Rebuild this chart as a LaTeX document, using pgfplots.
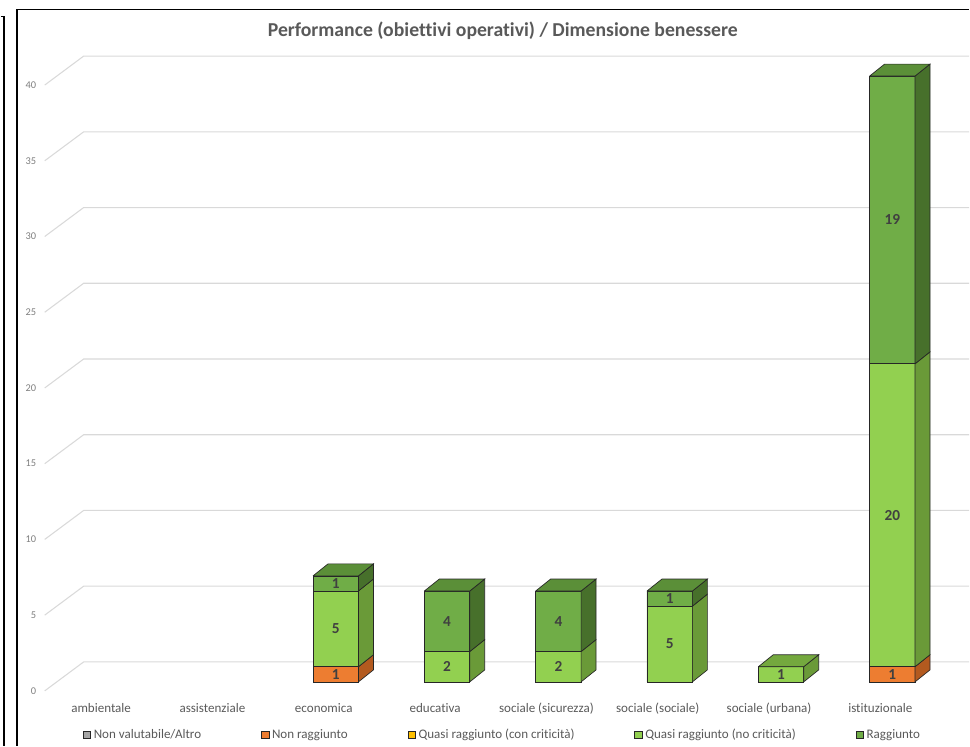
\documentclass[border=0pt]{standalone}
\usepackage{pgfplots}
\usepackage{pgfplotstable}
\pgfplotsset{compat=1.18}
\usepackage{fontspec}
\setmainfont{Carlito}[Ligatures=NoCommon]

\definecolor{cNV}{HTML}{A5A5A5}
\definecolor{cNR}{HTML}{ED7D31}
\definecolor{cNRs}{HTML}{B35A1F}
\definecolor{cQC}{HTML}{FFC000}
\definecolor{cQN}{HTML}{92D050}
\definecolor{cQNs}{HTML}{6A9A38}
\definecolor{cQNt}{HTML}{74A83E}
\definecolor{cR}{HTML}{70AD47}
\definecolor{cRs}{HTML}{47702B}
\definecolor{cRt}{HTML}{5B8F38}
\definecolor{txt}{HTML}{595959}
\definecolor{tick}{HTML}{7F7F7F}
\definecolor{gridc}{HTML}{D9D9D9}
\definecolor{edge}{HTML}{262626}
\definecolor{lbl}{HTML}{404040}

% categories: 0 ambientale, 1 assistenziale (all zero), 2 economica, 3 educativa,
% 4 sociale (sicurezza), 5 sociale (sociale), 6 sociale (urbana), 7 istituzionale
\pgfplotstableread{
x NV NR QC QN R
2 0 1 0 5 1
3 0 0 0 2 4
4 0 0 0 2 4
5 0 0 0 5 1
6 0 0 0 1 0
7 0 1 0 20 19
}\data

\pgfplotsset{
  geom/.style={
    at={(31.5pt,-512.25pt)}, anchor=south west, scale only axis,
    x=83.625pt, y=11.3775pt,
    xmin=-0.6323, xmax=7.601, ymin=0, ymax=42,
    clip=false,
  },
}

\begin{document}
\begin{tikzpicture}
\begin{scope}[x=0.75pt,y=-0.75pt]
  \path (0,0) rectangle (970,747);
  \draw[line width=1.2pt] (0,16.5) -- (3,16.5) -- (3,747);
  \draw[line width=1.2pt] (16,747) -- (16,9.5) -- (970,9.5);
  \foreach \v in {0,5,...,40} {
    \draw[gridc, line width=0.8pt] (44,{692-15.17*\v}) -- (83,{663-15.17*\v}) -- (970,{663-15.17*\v});
  }
\end{scope}

\begin{axis}[geom,
  ybar stacked, bar width=34.125pt,
  axis line style={draw=none}, major tick length=0pt,
  xtick={0,...,7},
  xticklabels={{ambientale},{assistenziale},{economica},{educativa},{sociale (sicurezza)},{sociale (sociale)},{sociale (urbana)},{istituzionale}},
  xticklabel style={anchor=center, xshift=-9pt, yshift=-20pt, font=\fontsize{9.8}{11}\selectfont, text=txt},
  ytick={0,5,...,40},
  yticklabel style={anchor=east, xshift=-1.5pt, yshift=-6.75pt, font=\fontsize{7.8}{9}\selectfont, text=tick},
  /pgf/number format/assume math mode=true,
  point meta=rawy,
  nodes near coords={\pgfmathfloatifflags{\pgfplotspointmeta}{0}{}{\pgfmathprintnumber{\pgfplotspointmeta}}},
  every node near coord/.append style={anchor=center,
     font=\bfseries\fontsize{11.5}{13}\selectfont, text=lbl},
  title={Performance (obiettivi operativi) / Dimensione benessere},
  title style={at={(0.502,1.011)}, anchor=center, font=\bfseries\fontsize{14.8}{17}\selectfont, text=txt},
  legend columns=5,
  legend style={at={(0.502,-0.083)}, anchor=center, draw=none, fill=none,
     font=\fontsize{9.8}{11}\selectfont, text=txt,
     /tikz/every even column/.append style={column sep=43pt}},
  legend image code/.code={\draw[#1,line width=0.6pt,draw=edge] (0pt,-2.8pt) rectangle (5.6pt,2.8pt);},
]
\addplot[fill=cNV, draw=edge, line width=0.5pt] table[x=x,y=NV]{\data};
\addlegendentry{Non valutabile/Altro}
\addplot[fill=cNR, draw=edge, line width=0.5pt] table[x=x,y=NR]{\data};
\addlegendentry{Non raggiunto}
\addplot[fill=cQC, draw=edge, line width=0.5pt] table[x=x,y=QC]{\data};
\addlegendentry{Quasi raggiunto (con criticità)}
\addplot[fill=cQN, draw=edge, line width=0.5pt] table[x=x,y=QN]{\data};
\addlegendentry{Quasi raggiunto (no criticità)}
\addplot[fill=cR, draw=edge, line width=0.5pt] table[x=x,y=R]{\data};
\addlegendentry{Raggiunto}
\end{axis}

% depth faces of the 3D bars (side and top faces)
\begin{axis}[geom, hide axis]
% economica: 1 / 5 / 1 (top 7)
\addplot[fill=cNRs, draw=edge, line width=0.5pt] coordinates {(2.204,0)(2.3385,0.791)(2.3385,1.791)(2.204,1)(2.204,0)};
\addplot[fill=cQNs, draw=edge, line width=0.5pt] coordinates {(2.204,1)(2.3385,1.791)(2.3385,6.791)(2.204,6)(2.204,1)};
\addplot[fill=cRs, draw=edge, line width=0.5pt] coordinates {(2.204,6)(2.3385,6.791)(2.3385,7.791)(2.204,7)(2.204,6)};
\addplot[fill=cRt, draw=edge, line width=0.5pt] coordinates {(1.796,7)(1.9305,7.791)(2.3385,7.791)(2.204,7)(1.796,7)};
% educativa: 2 / 4 (top 6)
\addplot[fill=cQNs, draw=edge, line width=0.5pt] coordinates {(3.204,0)(3.3385,0.791)(3.3385,2.791)(3.204,2)(3.204,0)};
\addplot[fill=cRs, draw=edge, line width=0.5pt] coordinates {(3.204,2)(3.3385,2.791)(3.3385,6.791)(3.204,6)(3.204,2)};
\addplot[fill=cRt, draw=edge, line width=0.5pt] coordinates {(2.796,6)(2.9305,6.791)(3.3385,6.791)(3.204,6)(2.796,6)};
% sociale (sicurezza): 2 / 4 (top 6)
\addplot[fill=cQNs, draw=edge, line width=0.5pt] coordinates {(4.204,0)(4.3385,0.791)(4.3385,2.791)(4.204,2)(4.204,0)};
\addplot[fill=cRs, draw=edge, line width=0.5pt] coordinates {(4.204,2)(4.3385,2.791)(4.3385,6.791)(4.204,6)(4.204,2)};
\addplot[fill=cRt, draw=edge, line width=0.5pt] coordinates {(3.796,6)(3.9305,6.791)(4.3385,6.791)(4.204,6)(3.796,6)};
% sociale (sociale): 5 / 1 (top 6)
\addplot[fill=cQNs, draw=edge, line width=0.5pt] coordinates {(5.204,0)(5.3385,0.791)(5.3385,5.791)(5.204,5)(5.204,0)};
\addplot[fill=cRs, draw=edge, line width=0.5pt] coordinates {(5.204,5)(5.3385,5.791)(5.3385,6.791)(5.204,6)(5.204,5)};
\addplot[fill=cRt, draw=edge, line width=0.5pt] coordinates {(4.796,6)(4.9305,6.791)(5.3385,6.791)(5.204,6)(4.796,6)};
% sociale (urbana): 1 (top 1)
\addplot[fill=cQNs, draw=edge, line width=0.5pt] coordinates {(6.204,0)(6.3385,0.791)(6.3385,1.791)(6.204,1)(6.204,0)};
\addplot[fill=cQNt, draw=edge, line width=0.5pt] coordinates {(5.796,1)(5.9305,1.791)(6.3385,1.791)(6.204,1)(5.796,1)};
% istituzionale: 1 / 20 / 19 (top 40)
\addplot[fill=cNRs, draw=edge, line width=0.5pt] coordinates {(7.204,0)(7.3385,0.791)(7.3385,1.791)(7.204,1)(7.204,0)};
\addplot[fill=cQNs, draw=edge, line width=0.5pt] coordinates {(7.204,1)(7.3385,1.791)(7.3385,21.791)(7.204,21)(7.204,1)};
\addplot[fill=cRs, draw=edge, line width=0.5pt] coordinates {(7.204,21)(7.3385,21.791)(7.3385,40.791)(7.204,40)(7.204,21)};
\addplot[fill=cRt, draw=edge, line width=0.5pt] coordinates {(6.796,40)(6.9305,40.791)(7.3385,40.791)(7.204,40)(6.796,40)};
\end{axis}
\end{tikzpicture}
\end{document}
